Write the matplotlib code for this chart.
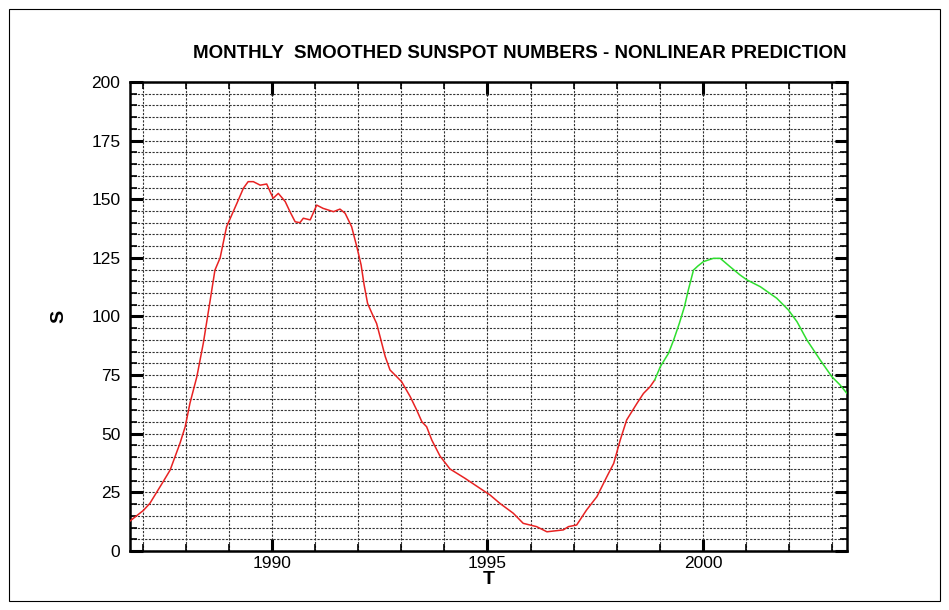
import matplotlib
matplotlib.use("Agg")
import matplotlib.pyplot as plt
from matplotlib.ticker import MultipleLocator
from matplotlib.patches import Rectangle

# observed monthly smoothed sunspot numbers (red)
obs_t = [1986.71, 1987.02, 1987.17, 1987.48, 1987.64, 1987.87, 1987.99, 1988.10,
         1988.26, 1988.41, 1988.57, 1988.68, 1988.80, 1988.95, 1989.19, 1989.34,
         1989.45, 1989.57, 1989.73, 1989.88, 1990.03, 1990.15, 1990.31, 1990.42,
         1990.54, 1990.65, 1990.73, 1990.89, 1991.04, 1991.19, 1991.43, 1991.58,
         1991.70, 1991.85, 1991.97, 1992.07, 1992.14, 1992.22, 1992.32, 1992.43,
         1992.51, 1992.63, 1992.74, 1992.86, 1993.01, 1993.21, 1993.36, 1993.48,
         1993.59, 1993.71, 1993.90, 1994.13, 1994.48, 1994.83, 1995.06, 1995.29,
         1995.60, 1995.83, 1996.14, 1996.38, 1996.76, 1996.88, 1997.07, 1997.30,
         1997.54, 1997.77, 1997.93, 1998.08, 1998.23, 1998.47, 1998.62, 1998.77,
         1998.88]
obs_s = [12.8, 17.3, 20.3, 29.6, 34.5, 46.0, 53.0, 63.0,
         74.3, 88.6, 107.0, 119.8, 125.0, 138.3, 148.3, 154.7,
         157.5, 157.5, 156.0, 156.5, 150.4, 152.5, 149.0, 144.7,
         140.4, 140.0, 141.9, 141.2, 147.5, 146.1, 144.7, 145.8,
         144.0, 138.3, 129.8, 122.0, 113.5, 105.6, 101.4, 97.0,
         91.4, 82.9, 77.2, 75.0, 72.2, 65.8, 60.1, 55.1,
         53.0, 47.3, 40.5, 35.0, 31.0, 26.7, 23.9, 20.3,
         16.1, 11.8, 10.4, 8.2, 9.0, 10.4, 11.1, 17.5,
         23.2, 31.7, 37.4, 47.3, 55.9, 63.0, 67.2, 70.0,
         72.9]

# nonlinear prediction (green)
pred_t = [1998.88, 1999.01, 1999.20, 1999.32, 1999.45, 1999.57, 1999.66, 1999.78,
          1999.88, 2000.01, 2000.24, 2000.40, 2000.63, 2000.86, 2001.02, 2001.33,
          2001.71, 2001.98, 2002.18, 2002.41, 2002.72, 2002.99, 2003.18, 2003.34]
pred_s = [72.9, 78.6, 84.3, 90.0, 97.0, 104.2, 111.3, 119.8,
          121.5, 123.4, 124.8, 124.8, 121.2, 117.7, 115.6, 112.7,
          107.8, 102.8, 97.8, 90.0, 81.4, 74.3, 70.8, 67.2]

plt.rcParams['font.family'] = ['Liberation Sans', 'DejaVu Sans']

fig = plt.figure(figsize=(9.49, 6.10), dpi=100)
ax = fig.add_axes([0.137, 0.0967, 0.7555, 0.7689])

ax.plot(obs_t, obs_s, color='#e82222', lw=1.1, zorder=3)
ax.plot(pred_t, pred_s, color='#2ede2e', lw=1.1, zorder=3)

ax.set_xlim(1986.71, 2003.34)
ax.set_ylim(0, 200)
ax.xaxis.set_major_locator(MultipleLocator(5))
ax.xaxis.set_minor_locator(MultipleLocator(1))
ax.yaxis.set_major_locator(MultipleLocator(25))
ax.yaxis.set_minor_locator(MultipleLocator(5))

ax.grid(which='both', color='0.2', linestyle=(0, (2.0, 1.3)), lw=0.8, zorder=1)
ax.tick_params(which='both', direction='in', top=True, right=True,
               labelsize=12.5, width=1.6)
ax.tick_params(which='major', length=9, width=2.2)
ax.tick_params(which='minor', length=5, width=1.2)
ax.tick_params(axis='y', which='major', pad=7)
for sp in ax.spines.values():
    sp.set_linewidth(1.8)

ax.set_xlabel('T', fontsize=14, fontweight='bold', labelpad=0)
ax.set_ylabel('S', fontsize=14, fontweight='bold', labelpad=17)
ax.set_title('MONTHLY  SMOOTHED SUNSPOT NUMBERS - NONLINEAR PREDICTION',
             fontsize=13.5, fontweight='bold', pad=17, x=0.543)

fig.patches.append(Rectangle((9 / 949, 9 / 610), 931 / 949, 592 / 610,
                             transform=fig.transFigure, fill=False,
                             edgecolor='black', lw=0.8))

fig.savefig('out.png', dpi=100)
